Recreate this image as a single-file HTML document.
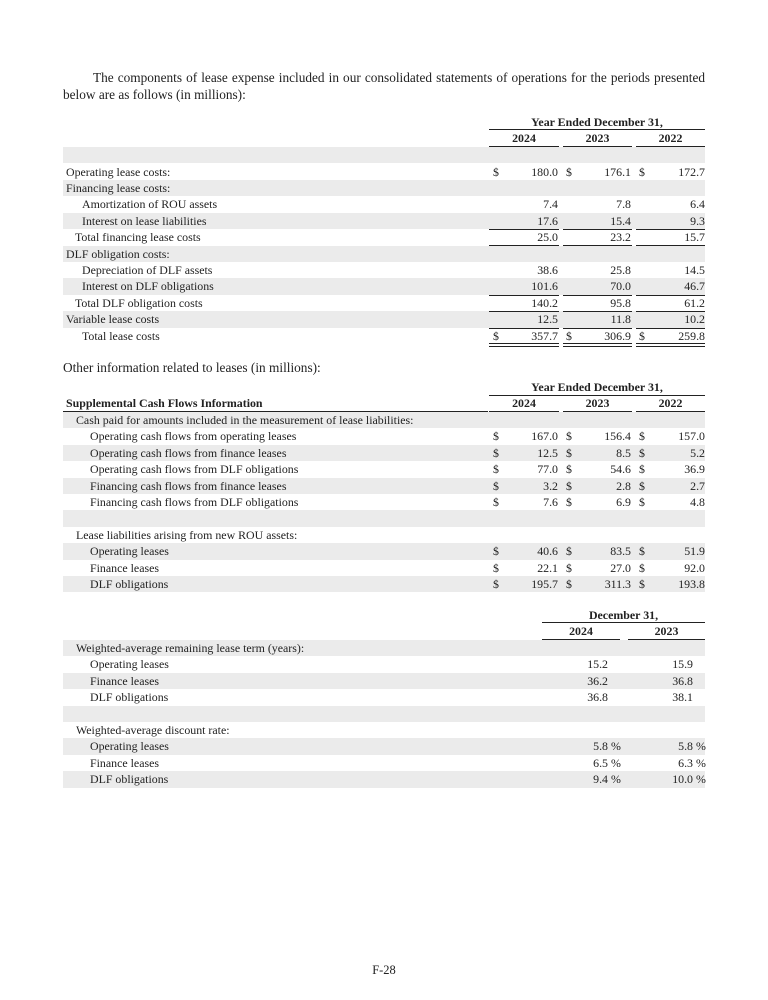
<!DOCTYPE html>
<html><head><meta charset="utf-8"><style>
body{margin:0;width:768px;height:1000px;background:#fff;position:relative;font-family:"Liberation Serif",serif;font-size:11.9px;color:#222;}
div{position:absolute;white-space:nowrap;}
.r{left:63px;width:642px;height:16.4px;line-height:16.4px;}
.g{background:#ebebeb;}
.v{text-align:right;}
.b{font-weight:bold;}
.ln{height:0;border-top:1.3px solid #222;}
.dl{height:2px;border-top:1px solid #222;border-bottom:1px solid #222;}
</style></head><body>
<div style="left:63px;top:70px;width:642px;white-space:normal;text-align:justify;line-height:16.5px;text-indent:30px;font-size:13.3px">The components of lease expense included in our consolidated statements of operations for the periods presented below are as follows (in millions):</div>

<!-- Table 1 -->
<div class="b" style="left:489px;width:216px;top:114px;text-align:center;line-height:16px">Year Ended December 31,</div>
<div class="ln" style="left:489px;width:216px;top:129px"></div>
<div class="b" style="left:489px;width:70px;top:130px;text-align:center;line-height:16px">2024</div>
<div class="b" style="left:563px;width:69px;top:130px;text-align:center;line-height:16px">2023</div>
<div class="b" style="left:636px;width:69px;top:130px;text-align:center;line-height:16px">2022</div>
<div class="ln" style="left:489px;width:70px;top:146px"></div>
<div class="ln" style="left:563px;width:69px;top:146px"></div>
<div class="ln" style="left:636px;width:69px;top:146px"></div>

<div class="r g" style="top:147px"></div>
<div class="r" style="top:163.5px"><div style="left:3px">Operating lease costs:</div></div>
<div class="r g" style="top:180px"><div style="left:3px">Financing lease costs:</div></div>
<div class="r" style="top:196.4px"><div style="left:19px">Amortization of ROU assets</div></div>
<div class="r g" style="top:212.8px"><div style="left:19px">Interest on lease liabilities</div></div>
<div class="r" style="top:229.2px"><div style="left:12px">Total financing lease costs</div></div>
<div class="r g" style="top:245.6px"><div style="left:3px">DLF obligation costs:</div></div>
<div class="r" style="top:262px"><div style="left:19px">Depreciation of DLF assets</div></div>
<div class="r g" style="top:278.4px"><div style="left:19px">Interest on DLF obligations</div></div>
<div class="r" style="top:294.8px"><div style="left:12px">Total DLF obligation costs</div></div>
<div class="r g" style="top:311.2px"><div style="left:3px">Variable lease costs</div></div>
<div class="r" style="top:327.6px"><div style="left:19px">Total lease costs</div></div>

<div style="left:493px;top:163.5px;line-height:16.4px">$</div><div style="left:566px;top:163.5px;line-height:16.4px">$</div><div style="left:639px;top:163.5px;line-height:16.4px">$</div>
<div style="left:493px;top:327.6px;line-height:16.4px">$</div><div style="left:566px;top:327.6px;line-height:16.4px">$</div><div style="left:639px;top:327.6px;line-height:16.4px">$</div>
<div class="v" style="left:500px;width:58px;top:163.5px;line-height:16.4px">180.0<br>&nbsp;<br>7.4<br>17.6<br>25.0<br>&nbsp;<br>38.6<br>101.6<br>140.2<br>12.5<br>357.7</div>
<div class="v" style="left:573px;width:58px;top:163.5px;line-height:16.4px">176.1<br>&nbsp;<br>7.8<br>15.4<br>23.2<br>&nbsp;<br>25.8<br>70.0<br>95.8<br>11.8<br>306.9</div>
<div class="v" style="left:647px;width:58px;top:163.5px;line-height:16.4px">172.7<br>&nbsp;<br>6.4<br>9.3<br>15.7<br>&nbsp;<br>14.5<br>46.7<br>61.2<br>10.2<br>259.8</div>
<div class="ln" style="left:489px;width:70px;top:229px"></div><div class="ln" style="left:563px;width:69px;top:229px"></div><div class="ln" style="left:636px;width:69px;top:229px"></div>
<div class="ln" style="left:489px;width:70px;top:245px"></div><div class="ln" style="left:563px;width:69px;top:245px"></div><div class="ln" style="left:636px;width:69px;top:245px"></div>
<div class="ln" style="left:489px;width:70px;top:294.5px"></div><div class="ln" style="left:563px;width:69px;top:294.5px"></div><div class="ln" style="left:636px;width:69px;top:294.5px"></div>
<div class="ln" style="left:489px;width:70px;top:311px"></div><div class="ln" style="left:563px;width:69px;top:311px"></div><div class="ln" style="left:636px;width:69px;top:311px"></div>
<div class="ln" style="left:489px;width:70px;top:327.5px"></div><div class="ln" style="left:563px;width:69px;top:327.5px"></div><div class="ln" style="left:636px;width:69px;top:327.5px"></div>
<div class="dl" style="left:489px;width:70px;top:343px"></div><div class="dl" style="left:563px;width:69px;top:343px"></div><div class="dl" style="left:636px;width:69px;top:343px"></div>

<!-- Table 2 -->
<div style="left:63px;top:360px;font-size:13.3px;line-height:16px">Other information related to leases (in millions):</div>
<div class="b" style="left:489px;width:216px;top:379px;text-align:center;line-height:16px">Year Ended December 31,</div>
<div class="ln" style="left:489px;width:216px;top:395px"></div>
<div class="b" style="left:66px;top:395px;line-height:16px">Supplemental Cash Flows Information</div>
<div class="b" style="left:489px;width:70px;top:395px;text-align:center;line-height:16px">2024</div>
<div class="b" style="left:563px;width:69px;top:395px;text-align:center;line-height:16px">2023</div>
<div class="b" style="left:636px;width:69px;top:395px;text-align:center;line-height:16px">2022</div>
<div class="ln" style="left:63px;width:425px;top:411px"></div>
<div class="ln" style="left:489px;width:70px;top:411px"></div><div class="ln" style="left:563px;width:69px;top:411px"></div><div class="ln" style="left:636px;width:69px;top:411px"></div>

<div class="r g" style="top:412px"><div style="left:13px">Cash paid for amounts included in the measurement of lease liabilities:</div></div>
<div class="r" style="top:428.4px"><div style="left:27px">Operating cash flows from operating leases</div></div>
<div class="r g" style="top:444.8px"><div style="left:27px">Operating cash flows from finance leases</div></div>
<div class="r" style="top:461.2px"><div style="left:27px">Operating cash flows from DLF obligations</div></div>
<div class="r g" style="top:477.6px"><div style="left:27px">Financing cash flows from finance leases</div></div>
<div class="r" style="top:494px"><div style="left:27px">Financing cash flows from DLF obligations</div></div>
<div class="r g" style="top:510.4px"></div>
<div class="r" style="top:526.8px"><div style="left:13px">Lease liabilities arising from new ROU assets:</div></div>
<div class="r g" style="top:543.2px"><div style="left:27px">Operating leases</div></div>
<div class="r" style="top:559.6px"><div style="left:27px">Finance leases</div></div>
<div class="r g" style="top:576px"><div style="left:27px">DLF obligations</div></div>

<div style="left:493px;top:428.4px;line-height:16.4px">$<br>$<br>$<br>$<br>$<br>&nbsp;<br>&nbsp;<br>$<br>$<br>$</div>
<div style="left:566px;top:428.4px;line-height:16.4px">$<br>$<br>$<br>$<br>$<br>&nbsp;<br>&nbsp;<br>$<br>$<br>$</div>
<div style="left:639px;top:428.4px;line-height:16.4px">$<br>$<br>$<br>$<br>$<br>&nbsp;<br>&nbsp;<br>$<br>$<br>$</div>
<div class="v" style="left:500px;width:58px;top:428.4px;line-height:16.4px">167.0<br>12.5<br>77.0<br>3.2<br>7.6<br>&nbsp;<br>&nbsp;<br>40.6<br>22.1<br>195.7</div>
<div class="v" style="left:573px;width:58px;top:428.4px;line-height:16.4px">156.4<br>8.5<br>54.6<br>2.8<br>6.9<br>&nbsp;<br>&nbsp;<br>83.5<br>27.0<br>311.3</div>
<div class="v" style="left:647px;width:58px;top:428.4px;line-height:16.4px">157.0<br>5.2<br>36.9<br>2.7<br>4.8<br>&nbsp;<br>&nbsp;<br>51.9<br>92.0<br>193.8</div>

<!-- Table 3 -->
<div class="b" style="left:542px;width:163px;top:607px;text-align:center;line-height:16px">December 31,</div>
<div class="ln" style="left:542px;width:163px;top:622px"></div>
<div class="b" style="left:542px;width:78px;top:623px;text-align:center;line-height:16px">2024</div>
<div class="b" style="left:628px;width:77px;top:623px;text-align:center;line-height:16px">2023</div>
<div class="ln" style="left:542px;width:78px;top:639px"></div><div class="ln" style="left:628px;width:77px;top:639px"></div>

<div class="r g" style="top:640px"><div style="left:13px">Weighted-average remaining lease term (years):</div></div>
<div class="r" style="top:656.4px"><div style="left:27px">Operating leases</div></div>
<div class="r g" style="top:672.8px"><div style="left:27px">Finance leases</div></div>
<div class="r" style="top:689.2px"><div style="left:27px">DLF obligations</div></div>
<div class="r g" style="top:705.6px"></div>
<div class="r" style="top:722px"><div style="left:13px">Weighted-average discount rate:</div></div>
<div class="r g" style="top:738.4px"><div style="left:27px">Operating leases</div></div>
<div class="r" style="top:754.8px"><div style="left:27px">Finance leases</div></div>
<div class="r g" style="top:771.2px"><div style="left:27px">DLF obligations</div></div>

<div class="v" style="left:550px;width:58px;top:656.4px;line-height:16.4px">15.2<br>36.2<br>36.8<br>&nbsp;<br>&nbsp;<br>5.8<br>6.5<br>9.4</div>
<div class="v" style="left:635px;width:58px;top:656.4px;line-height:16.4px">15.9<br>36.8<br>38.1<br>&nbsp;<br>&nbsp;<br>5.8<br>6.3<br>10.0</div>
<div style="left:611px;top:738.4px;line-height:16.4px">%<br>%<br>%</div>
<div style="left:696px;top:738.4px;line-height:16.4px">%<br>%<br>%</div>

<div style="left:0;width:768px;top:962px;text-align:center;line-height:16px;font-size:12.5px">F-28</div>
</body></html>
